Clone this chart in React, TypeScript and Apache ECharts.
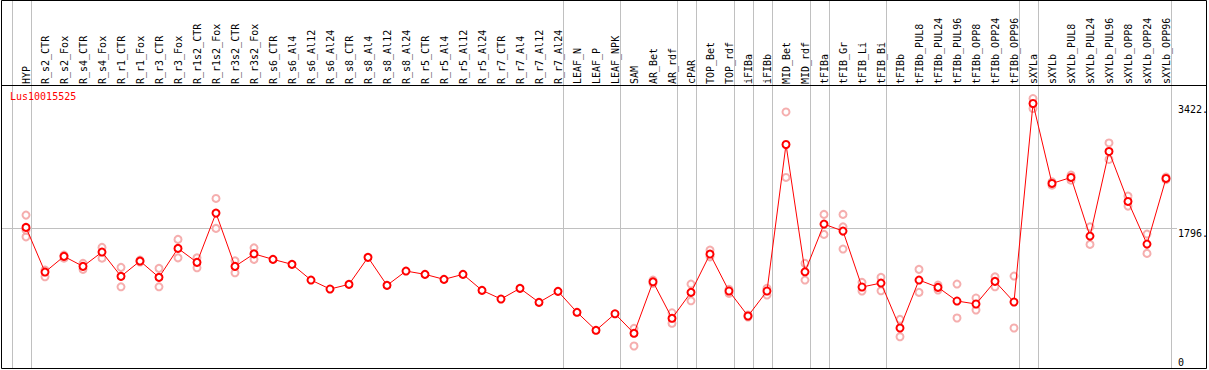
import React, { useEffect, useRef } from "react";
import * as echarts from "echarts";

const categories = [
  "HYP", "R_s2_CTR", "R_s2_Fox", "R_s4_CTR", "R_s4_Fox", "R_r1_CTR", "R_r1_Fox", "R_r3_CTR", "R_r3_Fox",
  "R_r1s2_CTR", "R_r1s2_Fox", "R_r3s2_CTR", "R_r3s2_Fox", "R_s6_CTR", "R_s6_Al4", "R_s6_Al12", "R_s6_Al24",
  "R_s8_CTR", "R_s8_Al4", "R_s8_Al12", "R_s8_Al24", "R_r5_CTR", "R_r5_Al4", "R_r5_Al12", "R_r5_Al24",
  "R_r7_CTR", "R_r7_Al4", "R_r7_Al12", "R_r7_Al24", "LEAF_N", "LEAF_P", "LEAF_NPK", "SAM", "AR_Bet", "AR_rdf",
  "cPAR", "TOP_Bet", "TOP_rdf", "iFIBa", "iFIBb", "MID_Bet", "MID_rdf", "tFIBa", "tFIB_Gr", "tFIB_Li", "tFIB_Bi",
  "tFIBb", "tFIBb_PUL8", "tFIBb_PUL24", "tFIBb_PUL96", "tFIBb_OPP8", "tFIBb_OPP24", "tFIBb_OPP96", "sXYLa",
  "sXYLb", "sXYLb_PUL8", "sXYLb_PUL24", "sXYLb_PUL96", "sXYLb_OPP8", "sXYLb_OPP24", "sXYLb_OPP96",
];

const meanValues = [
  1810, 1229, 1433, 1303, 1489, 1173, 1372, 1160, 1537, 1355, 1996, 1303, 1466, 1394, 1329, 1125, 1008,
  1069, 1420, 1056, 1242, 1199, 1134, 1199, 991, 878, 1017, 835, 978, 705, 471, 686, 432, 1102, 627,
  965, 1463, 982, 657, 982, 2889, 1232, 1853, 1762, 1034, 1086, 501, 1125, 1030, 852, 813, 1108, 839, 3422,
  2382, 2460, 1697, 2798, 2148, 1593, 2447,
];

const rep1 = [
  1970, 1255, 1450, 1342, 1550, 1290, 1385, 1277, 1654, 1414, 2187, 1375, 1544, null, null, null, null,
  null, null, null, null, null, null, null, null, null, null, null, null, null, null, null, 497, 1125, 699,
  1073, 1515, 1004, 670, 1017, 3312, 1342, 1979, 1979, 1095, 1160, 614, 1264, 1060, 1073, 891, 1167, 1177, 3487,
  2402, 2490, 1817, 2909, 2217, 1723, 2464,
];

const rep2 = [
  1687, 1167, 1410, 1264, 1410, 1037, 1359, 1037, 1414, 1284, 1797, 1219, 1394, null, null, null, null,
  null, null, null, null, null, null, null, null, null, null, null, null, null, null, null, 267, 1082, 562,
  855, 1427, 952, 644, 930, 2460, 1125, 1719, 1528, 982, 985, 387, 965, 995, 631, 735, 1037, 501, 3357,
  2360, 2425, 1589, 2694, 2087, 1472, 2431,
];

const rep3: (number | null)[] = categories.map((c) => (c === "HYP" ? 1775 : c === "tFIB_Gr" ? 1817 : null));

const geneName = "Lus10015525";
const yTickValues = [3422, 1796, 0];
const yTickLabels = ["3422.", "1796.", "0"];
const gridLineValues = [1796];
const separatorsAfter = [
  "", "HYP", "R_r7_Al24", "LEAF_NPK", "AR_rdf", "cPAR", "TOP_rdf", "iFIBa", "iFIBb", "MID_rdf", "tFIBa",
  "tFIB_Bi", "tFIBb_OPP96", "sXYLa", "sXYLb_OPP96",
];

const FONT = "DejaVu Sans Mono";

export default function App() {
  const ref = useRef<HTMLDivElement>(null);
  useEffect(() => {
    if (!ref.current) return;
    const chart = echarts.init(ref.current, null, { renderer: "svg" });
    const repData: [number, number][] = [];
    [rep1, rep2, rep3].forEach((arr) =>
      arr.forEach((v, i) => {
        if (v !== null && v !== undefined) repData.push([i, v as number]);
      })
    );
    chart.setOption({
      animation: false,
      backgroundColor: "#ffffff",
      grid: { left: 16.5, width: 1159, top: 86, height: 280.5 },
      xAxis: {
        type: "category",
        position: "top",
        data: categories,
        boundaryGap: true,
        axisLine: { show: false },
        axisTick: { show: false },
        splitLine: { show: false },
        axisLabel: {
          interval: 0,
          rotate: 90,
          margin: 2,
          fontFamily: FONT,
          fontSize: 10,
          color: "#000",
          padding: [0, 0, 0, 0],
        },
      },
      yAxis: {
        type: "value",
        min: 0,
        max: 3650,
        axisLine: { show: false },
        axisTick: { show: false },
        axisLabel: { show: false },
        splitLine: { show: false },
      },
      series: [
        {
          type: "scatter",
          data: repData,
          symbol: "emptyCircle",
          symbolSize: 7,
          itemStyle: { color: "#f29a9a", borderColor: "#f29a9a", borderWidth: 1 },
          z: 2,
          silent: true,
        },
        {
          type: "line",
          data: meanValues,
          symbol: "emptyCircle",
          symbolSize: 7,
          showAllSymbol: true,
          itemStyle: { color: "#ff0000", borderColor: "#ff0000", borderWidth: 1.2 },
          lineStyle: { color: "#ff0000", width: 1 },
          z: 3,
          silent: true,
        },
      ],
    });

    const step =
      (chart.convertToPixel({ xAxisIndex: 0 }, categories[1]) as number) -
      (chart.convertToPixel({ xAxisIndex: 0 }, categories[0]) as number);
    const first = chart.convertToPixel({ xAxisIndex: 0 }, categories[0]) as number;
    const graphics: any[] = [];
    separatorsAfter.forEach((c) => {
      const px = c === "" ? first - step : (chart.convertToPixel({ xAxisIndex: 0 }, c) as number);
      const x = Math.round(px + 4.5) + 0.5;
      graphics.push({
        type: "line",
        shape: { x1: x, y1: 0, x2: x, y2: 369 },
        style: { stroke: "#c0c0c0", lineWidth: 1 },
        z: 1,
        silent: true,
      });
    });
    gridLineValues.forEach((v) => {
      const y = Math.round(chart.convertToPixel({ yAxisIndex: 0 }, v) as number) + 0.5;
      graphics.push({
        type: "line",
        shape: { x1: 2, y1: y, x2: 1177, y2: y },
        style: { stroke: "#c0c0c0", lineWidth: 1 },
        z: 1,
        silent: true,
      });
    });
    yTickValues.forEach((v, i) => {
      const py = chart.convertToPixel({ yAxisIndex: 0 }, v) as number;
      graphics.push({
        type: "text",
        x: 1178,
        y: Math.min(Math.round(py), 357),
        style: { text: yTickLabels[i], font: `10px "${FONT}"`, fill: "#000", verticalAlign: "top", align: "left" },
        z: 5,
        silent: true,
      });
    });
    graphics.push({
      type: "text",
      x: 10,
      y: 91,
      style: { text: geneName, font: `10px "${FONT}"`, fill: "#ff0000", verticalAlign: "top", align: "left" },
      z: 5,
      silent: true,
    });
    graphics.push({
      type: "rect",
      shape: { x: 1.5, y: 0.5, width: 1205, height: 368 },
      style: { fill: "none", stroke: "#000", lineWidth: 1 },
      z: 6,
      silent: true,
    });
    graphics.push({
      type: "line",
      shape: { x1: 1.5, y1: 85.5, x2: 1206.5, y2: 85.5 },
      style: { stroke: "#000", lineWidth: 1 },
      z: 6,
      silent: true,
    });
    chart.setOption({ graphic: graphics });

    return () => chart.dispose();
  }, []);
  return (
    <div
      ref={ref}
      style={{ position: "absolute", left: 0, top: 0, width: 1209, height: 370 }}
    />
  );
}
